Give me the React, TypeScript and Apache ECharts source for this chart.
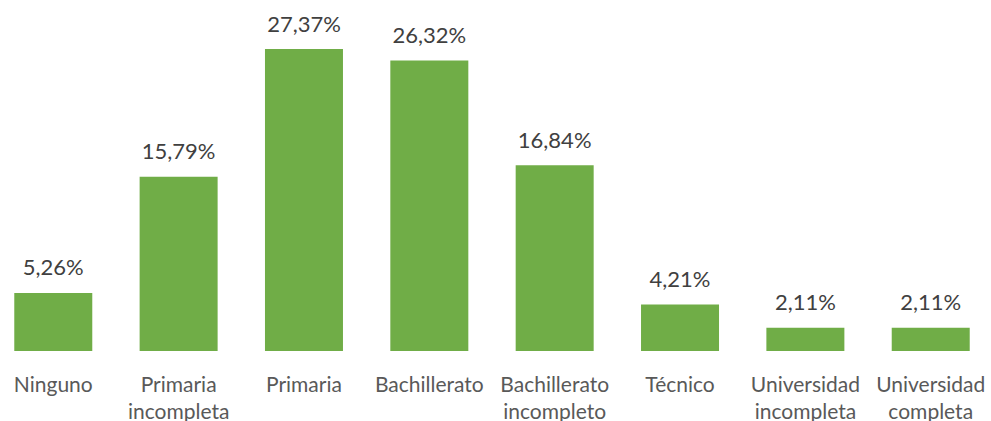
import React, { useEffect, useRef } from "react";
import * as echarts from "echarts";

const categories = [
  "Ninguno",
  "Primaria\nincompleta",
  "Primaria",
  "Bachillerato",
  "Bachillerato\nincompleto",
  "Técnico",
  "Universidad\nincompleta",
  "Universidad\ncompleta",
];
const values = [5.26, 15.79, 27.37, 26.32, 16.84, 4.21, 2.11, 2.11];

const FONT = "Lato, 'Open Sans', sans-serif";

export default function App() {
  const ref = useRef<HTMLDivElement>(null);
  useEffect(() => {
    if (!ref.current) return;
    const chart = echarts.init(ref.current, undefined, { renderer: "svg" });
    chart.setOption({
      animation: false,
      backgroundColor: "#ffffff",
      grid: {
        left: -9.4,
        right: -2.4,
        top: 20,
        bottom: 70,
        containLabel: false,
        outerBoundsMode: "none",
      },
      xAxis: {
        type: "category",
        data: categories,
        axisLine: { show: false },
        axisTick: { show: false },
        axisLabel: {
          interval: 0,
          color: "#595959",
          fontFamily: FONT,
          fontSize: 21,
          lineHeight: 27,
          margin: 19,
        },
      },
      yAxis: {
        type: "value",
        min: 0,
        max: 30,
        show: false,
        splitLine: { show: false },
      },
      series: [
        {
          type: "bar",
          data: values,
          barWidth: 78,
          itemStyle: { color: "#70AD47" },
          label: {
            show: true,
            position: "top",
            distance: 15,
            color: "#404040",
            fontFamily: FONT,
            fontSize: 22,
            formatter: (p: any) => p.value.toFixed(2).replace(".", ",") + "%",
          },
        },
      ],
    });
    return () => chart.dispose();
  }, []);
  return (
    <div
      ref={ref}
      style={{ position: "fixed", left: 0, top: 0, width: 991, height: 421, background: "#fff" }}
    />
  );
}
